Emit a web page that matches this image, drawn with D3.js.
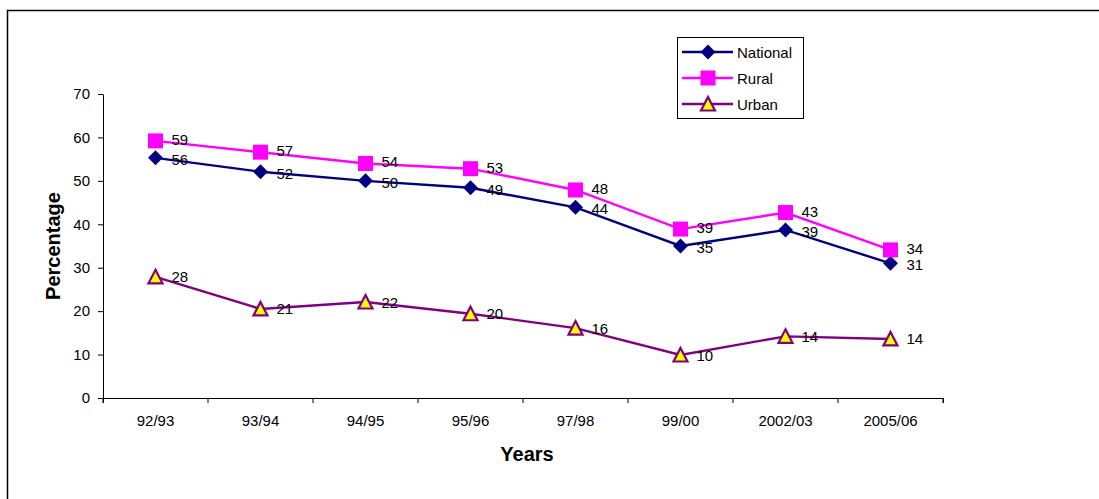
<!DOCTYPE html>
<html><head><meta charset="utf-8">
<script src="https://cdn.jsdelivr.net/npm/d3@7"></script>
<style>body{margin:0;background:#fff}svg{display:block;font-family:"Liberation Sans",Arial,sans-serif}</style>
</head><body><svg id="c" width="1099" height="499"></svg>
<script>
const categories = ["92/93","93/94","94/95","95/96","97/98","99/00","2002/03","2005/06"];
const national = [55.3, 52.1, 50.0, 48.4, 43.9, 35.0, 38.7, 31.0];
const rural    = [59.2, 56.6, 54.0, 52.8, 47.9, 38.9, 42.7, 34.1];
const urban    = [27.9, 20.5, 22.1, 19.4, 16.1, 9.9, 14.2, 13.6];
const nationalLabels = ["56","52","50","49","44","35","39","31"];
const ruralLabels    = ["59","57","54","53","48","39","43","34"];
const urbanLabels    = ["28","21","22","20","16","10","14","14"];
const yTicks = [0,10,20,30,40,50,60,70];
const seriesNames = ["National","Rural","Urban"];

const svg = d3.select("#c");
svg.append("rect").attr("x",7.5).attr("y",10.5).attr("width",1200).attr("height",600)
  .attr("fill","none").attr("stroke","#000").attr("stroke-width",1.5);

const x = d3.scaleBand().domain(categories).range([103,943]).padding(0);
const y = d3.scaleLinear().domain([0,70]).range([398,94]);

const gx = svg.append("g").attr("transform","translate(0,398)")
  .call(d3.axisBottom(x).tickSize(5).tickSizeOuter(5).tickPadding(12));
gx.selectAll(".tick line").attr("transform",`translate(${x.bandwidth()/2},0)`);
gx.selectAll("text").attr("font-size",15).attr("font-family","Liberation Sans, Arial").attr("fill","#000");
const gy = svg.append("g").attr("transform","translate(103,0)")
  .call(d3.axisLeft(y).tickValues(yTicks).tickSize(5).tickSizeOuter(0).tickPadding(8));
gy.selectAll("text").attr("font-size",15).attr("font-family","Liberation Sans, Arial").attr("fill","#000");
[gx,gy].forEach(g=>{g.selectAll("path,line").attr("stroke","#000");});
svg.append("line").attr("x1",103).attr("x2",103).attr("y1",398).attr("y2",403).attr("stroke","#000");

svg.append("text").attr("x",527).attr("y",461).attr("text-anchor","middle")
  .attr("font-weight","bold").attr("font-size",20).text("Years");
svg.append("text").attr("transform","translate(60,246) rotate(-90)").attr("text-anchor","middle")
  .attr("font-weight","bold").attr("font-size",20).text("Percentage");

const cx = d => x(d) + x.bandwidth()/2;
const series = [
  {name:seriesNames[0], vals:national, labels:nationalLabels, color:"#000080", marker:"diamond", nudge:1.5},
  {name:seriesNames[1], vals:rural, labels:ruralLabels, color:"#FF00FF", marker:"square", nudge:-1.5},
  {name:seriesNames[2], vals:urban, labels:urbanLabels, color:"#800080", marker:"triangle", nudge:0}
];
function drawMarker(g, type, px, py, color){
  if(type==="diamond"){
    g.append("path").attr("d",`M${px},${py-7.5}L${px+7.5},${py}L${px},${py+7.5}L${px-7.5},${py}Z`).attr("fill",color);
  } else if(type==="square"){
    g.append("rect").attr("x",px-7.5).attr("y",py-7.5).attr("width",15).attr("height",15).attr("fill",color);
  } else {
    g.append("path").attr("d",`M${px},${py-7}L${px+7},${py+6.5}L${px-7},${py+6.5}Z`)
      .attr("fill","#FFFF00").attr("stroke",color).attr("stroke-width",2.2);
  }
}
const line = d3.line().x((d,i)=>cx(categories[i])).y(d=>y(d));
series.forEach(s=>{
  svg.append("path").datum(s.vals).attr("d",line).attr("fill","none").attr("stroke",s.color).attr("stroke-width",2.4);
});
series.forEach(s=>{
  const g = svg.append("g");
  s.vals.forEach((v,i)=>{
    drawMarker(g, s.marker, cx(categories[i]), y(v), s.color);
    g.append("text").attr("x",cx(categories[i])+16).attr("y",y(v)+5.5+s.nudge).attr("font-size",15).text(s.labels[i]);
  });
});

const lg = svg.append("g");
lg.append("rect").attr("x",677.5).attr("y",37.5).attr("width",126).attr("height",81).attr("fill","#fff").attr("stroke","#000");
series.forEach((s,i)=>{
  const ly = 52 + i*26;
  lg.append("line").attr("x1",682).attr("x2",733).attr("y1",ly).attr("y2",ly).attr("stroke",s.color).attr("stroke-width",2.4);
  drawMarker(lg, s.marker, 708, ly, s.color);
  lg.append("text").attr("x",737).attr("y",ly+5.5).attr("font-size",15).text(s.name);
});
</script></body></html>
